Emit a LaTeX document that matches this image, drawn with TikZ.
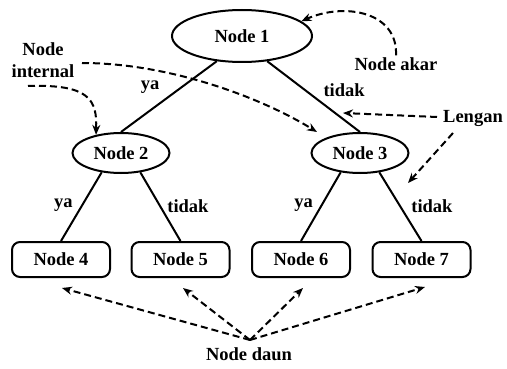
\documentclass[tikz,border=0pt]{standalone}
\usepackage{fontspec}
\newfontfamily\tfont{Liberation Serif}
\newcommand{\tsize}{\fontsize{18.5}{22}\selectfont}
\usetikzlibrary{arrows.meta,shapes.geometric}
\tikzset{
  txt/.style={font=\tfont\bfseries\tsize},
  inode/.style={txt,draw,ellipse,line width=2pt,inner sep=0pt,minimum width=97pt,minimum height=40pt},
  rnode/.style={inode,minimum width=140pt,minimum height=52pt},
  leaf/.style={txt,draw,rectangle,rounded corners=8pt,line width=2pt,inner sep=0pt,minimum width=98pt,minimum height=35pt},
  edge/.style={line width=2pt},
  elabel/.style={txt,inner sep=0pt},
  dasharrow/.style={line width=2pt,dash pattern=on 7pt off 4pt,-{Stealth[length=10pt,width=8pt]}},
  plain/.style={txt,inner sep=2pt}
}
\begin{document}
\begin{tikzpicture}[x=1pt,y=-1pt]
\useasboundingbox (0,0) rectangle (507,369);

% tree nodes
\node[rnode] (n1) at (242,36) {Node 1};
\node[inode] (n2) at (121,153) {Node 2};
\node[inode] (n3) at (360,153) {Node 3};
\node[leaf] (n4) at (61,259.5) {Node 4};
\node[leaf] (n5) at (180.5,259.5) {Node 5};
\node[leaf] (n6) at (301,259.5) {Node 6};
\node[leaf] (n7) at (421.5,259.5) {Node 7};

% branches
\draw[edge] (n1.225) -- node[elabel,pos=0.373,xshift=-31pt] {ya} (n2.north);
\draw[edge] (n1.-45) -- node[elabel,pos=0.408,xshift=39pt] {tidak} (n3.north);
\draw[edge] (n2.225) -- node[elabel,pos=0.475,xshift=-19pt] {ya} (n4.north);
\draw[edge] (n2.-45) -- node[elabel,pos=0.496,xshift=27.7pt] {tidak} (n5.north);
\draw[edge] (n3.225) -- node[elabel,pos=0.475,xshift=-18.3pt] {ya} (n6.north);
\draw[edge] (n3.-45) -- node[elabel,pos=0.496,xshift=31.7pt] {tidak} (n7.north);

% annotation labels
\node[plain] (akar) at (396,64) {Node akar};
\node[plain,align=center] (intl) at (43,60) {Node\\internal};
\node[plain] (lengan) at (473,118) {Lengan};
\node[plain] (daun) at (249,354) {Node daun};

% helper coordinates
\coordinate (i1) at (28,86);
\coordinate (i2) at (82,63);
\coordinate (t3) at (317,132);
\coordinate (l1) at (437,117);
\coordinate (lt1) at (343,113);
\coordinate (l2) at (453,133);
\coordinate (lt2) at (408,183);
\coordinate (d0) at (250,340);

% annotation arrows
\draw[dasharrow] (akar.north) .. controls (398,12) and (345,2) .. (n1.14);
\draw[dasharrow] (i1) .. controls (90,84) and (97,100) .. (n2.144);
\draw[dasharrow] (i2) .. controls (170,63) and (262,98) .. (t3);
\draw[dasharrow] (l1) -- (lt1);
\draw[dasharrow] (l2) -- (lt2);
\draw[dasharrow] (d0) -- ([shift={(1,10)}]n4.south);
\draw[dasharrow] (d0) -- ([shift={(2.5,10)}]n5.south);
\draw[dasharrow] (d0) -- ([shift={(2,10)}]n6.south);
\draw[dasharrow] (d0) -- ([shift={(3.5,9)}]n7.south);
\end{tikzpicture}
\end{document}
